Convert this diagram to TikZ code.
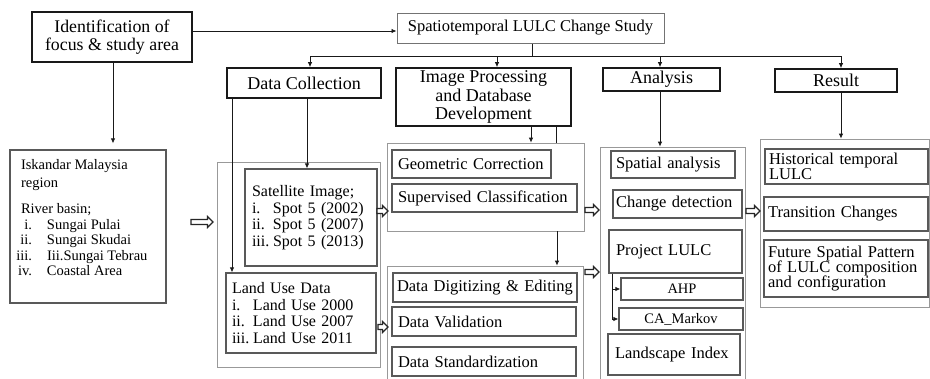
\documentclass[tikz,border=0pt]{standalone}
\usepackage{fontspec}
\setmainfont{Liberation Serif}
\usetikzlibrary{arrows.meta}
\newcommand\fsz[2]{\fontsize{#1}{#2}\selectfont}
\begin{document}
\begin{tikzpicture}[x=1pt,y=-1pt,
  sz/.style 2 args={minimum width=#1, minimum height=#2},
  mainbox/.style={draw=black!90, line width=1.7pt, inner sep=0pt, align=center, text=black},
  thinbox/.style={draw=black!55, line width=1pt, inner sep=0pt, align=center, text=black},
  gbox/.style={draw=black!65, line width=1.3pt, inner sep=0pt, text=black},
  obox/.style={draw=black!40, line width=0.8pt, inner sep=0pt},
  arr/.style={line width=0.8pt, draw=black!90, -{Latex[length=5pt,width=4.5pt]}},
  ln/.style={line width=0.8pt, draw=black!90},
  pics/harr/.style={code={\draw[line width=1.1pt, draw=black!85, fill=white, line join=miter]
     (0,-2.5) -- ({#1-5.5},-2.5) -- ({#1-5.5},-5.5) -- (#1,0) -- ({#1-5.5},5.5) -- ({#1-5.5},2.5) -- (0,2.5) -- cycle;}}
]
\useasboundingbox (0,0) rectangle (930,378);
\fill[white] (0,0) rectangle (930,378);
\clip (0,0) rectangle (930,378);

% outer containers
\node[obox, sz={163pt}{205pt}] (dataouter) at (298.5,264.5) {};
\node[obox, sz={197pt}{88pt}] (box1) at (485.5,187) {};
\node[obox, sz={196pt}{124pt}] (box2) at (485,328) {};
\node[obox, sz={145pt}{243pt}] (anaouter) at (672.5,268.5) {};
\node[obox, sz={169pt}{168pt}] (resouter) at (844.5,223) {};

% main boxes
\node[mainbox, sz={160pt}{50pt}, font=\fsz{17.8}{18}] (ident) at (112,37) {Identification of\\focus \& study area};
\node[thinbox, sz={267pt}{30pt}, font=\fsz{16.5}{18}] (spatio) at (530.5,28) {Spatiotemporal LULC Change Study};
\node[mainbox, sz={154pt}{30pt}, font=\fsz{18}{20}] (datacol) at (304,83) {Data Collection};
\node[mainbox, sz={175pt}{58pt}, font=\fsz{18}{18.5}] (imgproc) at (483.5,97) {Image Processing\\and Database\\Development};
\node[mainbox, sz={117pt}{23pt}, font=\fsz{18}{20}] (analysis) at (661.5,79.5) {Analysis};
\node[mainbox, sz={122pt}{23pt}, font=\fsz{18}{20}] (result) at (836,80.5) {Result};

% study area
\node[gbox, sz={156pt}{153pt}] (iskandar) at (88,226.5) {\parbox[c][153pt][t]{134pt}{\fsz{14.5}{18}\rule{0pt}{19pt}Iskandar Malaysia\\ region\\[8.5pt] River basin;\par
 \fsz{14.5}{15.5}\makebox[11pt][r]{i.}\hspace{15pt}Sungai Pulai\\
 \makebox[11pt][r]{ii.}\hspace{15pt}Sungai Skudai\\
 \makebox[11pt][r]{iii.}\hspace{15pt}Iii.Sungai Tebrau\\
 \makebox[11pt][r]{iv.}\hspace{15pt}Coastal Area}};

% data collection
\node[gbox, sz={132pt}{97pt}, text width=118pt, align=left, font=\fsz{16}{16.7}] (sat) at (311,217.5)
 {Satellite Image;\\ \makebox[21pt][l]{i.}Spot 5 (2002)\\ \makebox[21pt][l]{ii.}Spot 5 (2007)\\ \makebox[21pt][l]{iii.}Spot 5 (2013)};
\node[gbox, sz={150pt}{80pt}, text width=138pt, align=left, font=\fsz{16}{16.5}] (landuse) at (301,313)
 {Land Use Data\\ \makebox[21pt][l]{i.}Land Use 2000\\ \makebox[21pt][l]{ii.}Land Use 2007\\ \makebox[21pt][l]{iii.}Land Use 2011};

% image processing
\node[gbox, sz={159pt}{28pt}, text width=147pt, align=left, font=\fsz{16.5}{18}] (geo) at (471.5,164) {Geometric Correction};
\node[gbox, sz={185pt}{28pt}, text width=173pt, align=left, font=\fsz{16.5}{18}] (sup) at (484.5,198) {Supervised Classification};
\node[gbox, sz={184pt}{29pt}, text width=176pt, align=left, font=\fsz{16.5}{18}] (dig) at (485,287.5) {Data Digitizing \& Editing};
\node[gbox, sz={184pt}{29pt}, text width=172pt, align=left, font=\fsz{16.5}{18}] (val) at (484,321.5) {Data Validation};
\node[gbox, sz={184pt}{29pt}, text width=172pt, align=left, font=\fsz{16.5}{18}] (std) at (484,361.5) {Data Standardization};

% analysis
\node[gbox, sz={124pt}{27pt}, text width=114pt, align=left, font=\fsz{16.5}{18}] (spa) at (673,164.5) {Spatial analysis};
\node[gbox, sz={129pt}{28pt}, text width=123pt, align=left, font=\fsz{16.5}{18}] (chg) at (677.5,204) {Change detection};
\node[gbox, sz={133pt}{43pt}, text width=119pt, align=left, font=\fsz{16.5}{18}] (proj) at (675.5,251.5) {Project LULC};
\node[gbox, sz={122pt}{22pt}, align=center, font=\fsz{14.5}{16}] (ahp) at (682,289) {AHP};
\node[gbox, sz={124pt}{22pt}, align=center, font=\fsz{14.5}{16}] (cam) at (681,319) {CA\_Markov};
\node[gbox, sz={132pt}{41pt}, text width=118pt, align=left, font=\fsz{16.5}{18}] (land) at (674,354.5) {Landscape Index};

% result
\node[gbox, sz={163pt}{35pt}, text width=155pt, align=left, font=\fsz{16.5}{15}] (hist) at (846.5,166.5) {Historical temporal\\LULC};
\node[gbox, sz={164pt}{34pt}, text width=156pt, align=left, font=\fsz{16.5}{18}] (trans) at (846,214) {Transition Changes};
\node[gbox, sz={164pt}{57pt}, text width=156pt, align=left, font=\fsz{16.5}{15.3}] (fut) at (846,268.5) {Future Spatial Pattern\\of LULC composition\\and configuration};

% connectors
\draw[arr] (ident.east |- 0,31) -- (spatio.west |- 0,31);
\draw[ln] (spatio.south -| 532,0) -- (532,56.5);
\draw[arr] (532,56.5) -| (datacol.north -| 310,0);
\draw[arr] (532,56.5) -| (result.north -| 841,0);
\draw[arr] (497,56.5) -- (imgproc.north -| 497,0);
\draw[arr] (660,56.5) -- (analysis.north -| 660,0);

\draw[arr, shorten >=6pt] (ident.south -| 113,0) -- (iskandar.north -| 113,0);
\draw[arr] (datacol.south -| 232,0) -- (landuse.north -| 232,0);
\draw[arr] (datacol.south -| 307,0) -- (sat.north -| 307,0);
\draw[arr] (imgproc.south -| 531,0) -- (box1.north -| 531,0);
\draw[ln] (imgproc.south -| 556,0) -- (box1.north -| 556,0);
\draw[arr] (box1.south -| 557,0) -- (box2.north -| 557,0);
\draw[arr] (analysis.south -| 660,0) -- (anaouter.north -| 660,0);
\draw[arr] (result.south -| 841,0) -- (resouter.north -| 841,0);
\draw[arr] (proj.south -| 612,0) |- (ahp.west);
\draw[arr] (proj.south -| 612,0) |- (cam.west);

% hollow arrows
\pic at (191,222) {harr=22};
\pic at (377,211) {harr=11};
\pic at (378,327) {harr=10};
\pic at (585,210) {harr=14};
\pic at (585,272) {harr=14};
\pic at (746,211) {harr=14};
\end{tikzpicture}
\end{document}
